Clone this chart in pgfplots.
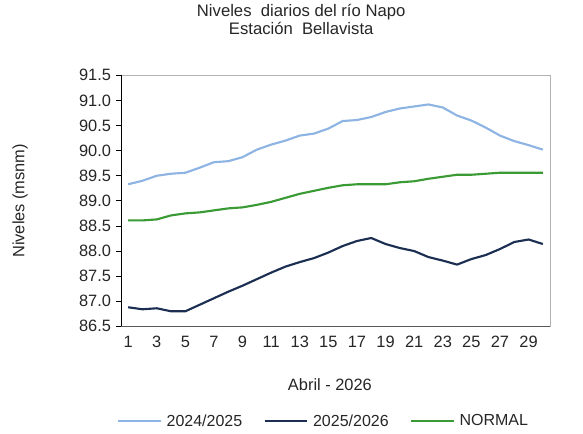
\documentclass[border=0pt]{standalone}
\usepackage{pgfplots}
\pgfplotsset{compat=1.18}
\usepackage{fontspec}
\setmainfont{Liberation Sans}

\definecolor{c2425}{HTML}{8DB4E2}
\definecolor{c2526}{HTML}{1C2F52}
\definecolor{cnorm}{HTML}{3A9B35}
\definecolor{txt}{HTML}{262626}

\begin{document}
\begin{tikzpicture}
\begin{axis}[
    scale only axis,
    width=321.75pt,
    height=188.25pt,
    xmin=0.5, xmax=30.5,
    ymin=86.5, ymax=91.5,
    xtick={1,3,...,29},
    major x tick style={draw=none},
    extra x ticks={0.5,2.5,...,30.5},
    extra x tick labels={},
    extra x tick style={major tick length=4pt, tick style={draw=gray!70!black, line width=0.6pt}},
    ytick={86.5,87,...,91.5},
    y tick style={draw=black, line width=0.6pt},
    major tick length=4pt,
    tick align=outside,
    tick pos=left,
    axis line style={draw=gray!60, line width=0.6pt},
    yticklabel style={/pgf/number format/.cd, fixed, fixed zerofill, precision=1},
    /pgf/number format/assume math mode=true,
    tick label style={font=\fontsize{12.3}{13}\selectfont, text=txt},
    xlabel={Abril - 2026},
    ylabel={Niveles (msnm)},
    every axis x label/.style={at={(axis description cs:0.487,-0.231)}, anchor=center,
        font=\fontsize{12.3}{13}\selectfont, text=txt},
    every axis y label/.style={at={(axis description cs:-0.235,0.5)}, anchor=center, rotate=90,
        font=\fontsize{12.3}{13}\selectfont, text=txt},
    title={Niveles\ \ diarios del río Napo\\Estación\ \ Bellavista},
    title style={font=\fontsize{12.5}{13.5}\selectfont, text=txt, align=center, at={(axis description cs:0.42,1.19)}, anchor=center},
    legend columns=3,
    legend style={draw=none, fill=none, at={(axis description cs:0.473,-0.378)}, anchor=center,
        font=\fontsize{12}{13}\selectfont, text=txt,
        /tikz/every even column/.append style={column sep=14pt},
        /tikz/every odd column/.append style={column sep=1.5pt}},
    legend image code/.code={\draw[#1] (0pt,0pt) -- (32pt,0pt);},
    after end axis/.code={
        \draw[black, line width=0.6pt] (rel axis cs:0,0) -- (rel axis cs:0,1);
        \draw[gray!70!black, line width=0.6pt] (rel axis cs:0,0) -- (rel axis cs:1,0);
        \path (rel axis cs:0,0) ++(-90.75pt,-80.25pt) coordinate (bbA);
        \path (rel axis cs:1,1) ++(24.75pt,54pt) coordinate (bbB);
        \path (bbA) rectangle (bbB);
    },
]
\addplot[c2425, line width=1.6pt] coordinates {
(1,89.33) (2,89.40) (3,89.50) (4,89.54) (5,89.56) (6,89.66) (7,89.77) (8,89.79) (9,89.87) (10,90.02)
(11,90.12) (12,90.20) (13,90.30) (14,90.34) (15,90.44) (16,90.59) (17,90.61) (18,90.67) (19,90.77) (20,90.84)
(21,90.88) (22,90.92) (23,90.86) (24,90.70) (25,90.60) (26,90.46) (27,90.30) (28,90.19) (29,90.11) (30,90.02)};
\addlegendentry{2024/2025}
\addplot[c2526, line width=1.6pt] coordinates {
(1,86.88) (2,86.84) (3,86.86) (4,86.80) (5,86.80) (6,86.93) (7,87.06) (8,87.19) (9,87.31) (10,87.44)
(11,87.57) (12,87.69) (13,87.78) (14,87.86) (15,87.97) (16,88.10) (17,88.20) (18,88.26) (19,88.14) (20,88.06)
(21,88.00) (22,87.88) (23,87.81) (24,87.73) (25,87.84) (26,87.92) (27,88.04) (28,88.18) (29,88.23) (30,88.14)};
\addlegendentry{2025/2026}
\addplot[cnorm, line width=1.6pt] coordinates {
(1,88.61) (2,88.61) (3,88.63) (4,88.71) (5,88.75) (6,88.77) (7,88.81) (8,88.85) (9,88.87) (10,88.92)
(11,88.98) (12,89.06) (13,89.14) (14,89.20) (15,89.26) (16,89.31) (17,89.33) (18,89.33) (19,89.33) (20,89.37)
(21,89.39) (22,89.44) (23,89.48) (24,89.52) (25,89.52) (26,89.54) (27,89.56) (28,89.56) (29,89.56) (30,89.56)};
\addlegendentry{NORMAL}
\end{axis}
\end{tikzpicture}
\end{document}
